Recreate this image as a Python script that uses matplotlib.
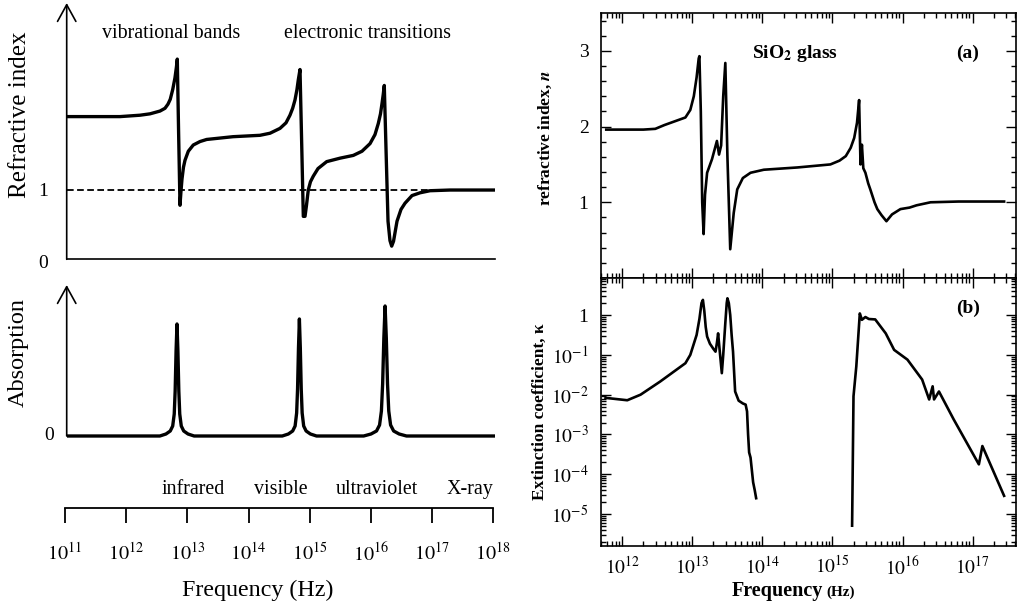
import matplotlib
matplotlib.use('Agg')
import matplotlib.pyplot as plt
import numpy as np
from matplotlib.ticker import FixedLocator, FixedFormatter, NullLocator, MultipleLocator, LogLocator, NullFormatter

plt.rcParams['font.family'] = ['Liberation Serif', 'DejaVu Serif']
plt.rcParams['mathtext.fontset'] = 'stix'

# ---------------- data: schematic (left) ----------------
schem_logf = [11.028, 11.572, 11.899, 12.225, 12.389, 12.552, 12.634, 12.683, 12.720, 12.760,
              12.797, 12.820, 12.835, 12.856, 12.879, 12.895, 12.912, 12.936, 12.961, 13.015,
              13.096, 13.206, 13.315, 13.745, 14.186, 14.350, 14.513, 14.611, 14.676, 14.720,
              14.758, 14.790, 14.812, 14.840, 14.868, 14.894, 14.922, 14.946, 14.975, 15.011,
              15.057, 15.134, 15.276, 15.494, 15.711, 15.853, 15.984, 16.065, 16.119, 16.155,
              16.180, 16.200, 16.217, 16.245, 16.278, 16.310, 16.338, 16.368, 16.425, 16.490,
              16.556, 16.670, 16.801, 16.964, 17.291, 18.026]
schem_n = [2.06, 2.06, 2.06, 2.08, 2.10, 2.14, 2.18, 2.24, 2.31, 2.45,
           2.62, 2.77, 2.89, 1.85, 0.78, 0.98, 1.16, 1.33, 1.43, 1.56,
           1.65, 1.70, 1.73, 1.77, 1.79, 1.82, 1.89, 1.97, 2.08, 2.18,
           2.30, 2.45, 2.59, 2.74, 1.65, 0.62, 0.62, 0.78, 1.00, 1.12,
           1.20, 1.31, 1.41, 1.46, 1.50, 1.56, 1.67, 1.80, 1.96, 2.10,
           2.25, 2.38, 2.51, 1.60, 0.55, 0.27, 0.19, 0.26, 0.55, 0.72,
           0.81, 0.92, 0.96, 0.99, 1.00, 1.00]

absorb_logf = [11.028,
               12.55, 12.65, 12.72, 12.76, 12.785, 12.80, 12.815, 12.83, 12.845, 12.86, 12.875, 12.90, 12.94, 13.01, 13.11,
               14.55, 14.65, 14.72, 14.76, 14.785, 14.80, 14.815, 14.83, 14.845, 14.86, 14.875, 14.90, 14.94, 15.01, 15.11,
               15.88, 16.00, 16.09, 16.14, 16.17, 16.19, 16.21, 16.23, 16.25, 16.27, 16.29, 16.32, 16.37, 16.46, 16.58,
               18.026]
absorb_val = [0.0,
              0.00, 0.02, 0.05, 0.10, 0.22, 0.45, 0.85, 1.12, 0.85, 0.45, 0.22, 0.10, 0.05, 0.02, 0.00,
              0.00, 0.02, 0.05, 0.10, 0.23, 0.47, 0.88, 1.17, 0.88, 0.47, 0.23, 0.10, 0.05, 0.02, 0.00,
              0.00, 0.02, 0.05, 0.11, 0.25, 0.52, 0.98, 1.30, 0.98, 0.52, 0.25, 0.11, 0.05, 0.02, 0.00,
              0.0]

bar_decades = [11, 12, 13, 14, 15, 16, 17, 18]
bar_labels = [r'$10^{11}$', r'$10^{12}$', r'$10^{13}$', r'$10^{14}$', r'$10^{15}$', r'$10^{16}$', r'$10^{17}$', r'$10^{18}$']
region_names = ['infrared', 'visible', 'ultraviolet', 'X-ray']
region_logf = [13.088, 14.526, 16.10, 17.62]

# ---------------- data: SiO2 glass (right) ----------------
n_logf = [11.77, 12.30, 12.47, 12.60, 12.75, 12.90, 12.97, 13.02, 13.06, 13.09,
          13.10, 13.12, 13.14, 13.16, 13.18, 13.21, 13.28, 13.35, 13.38, 13.41,
          13.44, 13.47, 13.50, 13.54, 13.59, 13.64, 13.72, 13.83, 14.02, 14.50,
          14.97, 15.10, 15.19, 15.26, 15.31, 15.35, 15.38, 15.40, 15.42, 15.44,
          15.47, 15.51, 15.54, 15.60, 15.64, 15.70, 15.77, 15.85, 15.97, 16.10,
          16.20, 16.40, 16.80, 17.45]
n_val = [1.96, 1.96, 1.97, 2.02, 2.07, 2.12, 2.22, 2.40, 2.65, 2.90,
         2.93, 2.20, 1.00, 0.58, 1.10, 1.39, 1.57, 1.81, 1.63, 1.75,
         2.40, 2.84, 1.60, 0.38, 0.86, 1.17, 1.32, 1.39, 1.43, 1.46,
         1.50, 1.55, 1.61, 1.72, 1.85, 2.05, 2.35, 1.50, 1.76, 1.45,
         1.39, 1.25, 1.17, 1.00, 0.91, 0.83, 0.75, 0.84, 0.91, 0.93,
         0.96, 1.00, 1.01, 1.01]

k1_logf = [11.76, 12.07, 12.26, 12.54, 12.90, 12.97, 13.06, 13.10, 13.13, 13.15,
           13.17, 13.19, 13.21, 13.25, 13.30, 13.33, 13.35, 13.367, 13.39, 13.42,
           13.44, 13.47, 13.49, 13.50, 13.52, 13.54, 13.56, 13.58, 13.61, 13.66,
           13.72, 13.76, 13.78, 13.795, 13.81, 13.83, 13.867, 13.89, 13.91]
k1_log = [-2.08, -2.14, -2.00, -1.67, -1.21, -1.00, -0.50, -0.10, 0.30, 0.38,
          0.10, -0.30, -0.54, -0.72, -0.85, -0.92, -0.70, -0.46, -0.90, -1.46,
          -1.00, -0.20, 0.30, 0.42, 0.30, 0.00, -0.50, -0.92, -1.92, -2.15,
          -2.22, -2.25, -2.42, -3.00, -3.45, -3.58, -4.20, -4.40, -4.60]

k2_logf = [15.28, 15.30, 15.34, 15.39, 15.42, 15.47, 15.52, 15.61, 15.76, 15.88,
           16.07, 16.28, 16.38, 16.43, 16.45, 16.52, 16.73, 17.09, 17.14, 17.45]
k2_log = [-5.29, -2.04, -1.29, 0.04, -0.12, -0.05, -0.10, -0.11, -0.46, -0.875,
          -1.12, -1.62, -2.12, -1.79, -2.12, -1.92, -2.62, -3.75, -3.29, -4.54]

right_xdecades = [12, 13, 14, 15, 16, 17]
right_xlabels = [r'$10^{12}$', r'$10^{13}$', r'$10^{14}$', r'$10^{15}$', r'$10^{16}$', r'$10^{17}$']
n_ticks = [1, 2, 3]
n_ticklabels = ['1', '2', '3']
k_decades = [0, -1, -2, -3, -4, -5]
k_ticklabels = ['1', r'$10^{-1}$', r'$10^{-2}$', r'$10^{-3}$', r'$10^{-4}$', r'$10^{-5}$']

# ---------------- figure ----------------
W, H = 1017, 605
fig = plt.figure(figsize=(W / 100, H / 100), dpi=100)
fig.patch.set_facecolor('white')


def rect(x0, y0, x1, y1):
    return [x0 / W, 1 - y1 / H, (x1 - x0) / W, (y1 - y0) / H]


def fx(x):
    return x / W


def fy(y):
    return 1 - y / H


def clean(ax):
    ax.patch.set_visible(False)
    ax.xaxis.set_major_locator(NullLocator())
    ax.xaxis.set_minor_locator(NullLocator())
    ax.yaxis.set_major_locator(NullLocator())
    ax.yaxis.set_minor_locator(NullLocator())


arrow_props = dict(arrowstyle='->,head_length=0.6,head_width=0.33', lw=1.2, color='k',
                   shrinkA=0, shrinkB=0, mutation_scale=20)

# Left top: refractive index
ax1 = fig.add_axes(rect(66.7, 3, 495, 259.3))
ax1.set_xscale('log')
ax1.set_xlim(10 ** 11.028, 10 ** 18.026)
ax1.set_ylim(0, 3.70)
clean(ax1)
for s in ['top', 'right', 'left']:
    ax1.spines[s].set_visible(False)
ax1.spines['bottom'].set_linewidth(1.2)
ax1.axhline(1.0, color='k', lw=1.3, ls=(0, (3.7, 1.9)), zorder=1)
ax1.plot(10 ** np.array(schem_logf), schem_n, color='k', lw=2.4, zorder=3,
         solid_joinstyle='round', solid_capstyle='round')
ax1.annotate('', xy=(0, 1), xytext=(0, 0), xycoords='axes fraction', textcoords='axes fraction',
             arrowprops=arrow_props, annotation_clip=False)

fig.text(fx(43.3), fy(192), '1', ha='center', va='center', fontsize=14)
fig.text(fx(43.3), fy(263), '0', ha='center', va='center', fontsize=14)
fig.text(fx(20), fy(115), 'Refractive index', rotation=90, ha='center', va='center', fontsize=18)
fig.text(fx(171), fy(33), 'vibrational bands', ha='center', va='center', fontsize=14.4)
fig.text(fx(367.5), fy(33), 'electronic transitions', ha='center', va='center', fontsize=14.4)

# Left middle: absorption
ax2 = fig.add_axes(rect(66.7, 285, 495, 440))
ax2.set_xscale('log')
ax2.set_xlim(10 ** 11.028, 10 ** 18.026)
ax2.set_ylim(-0.04, 1.51)
clean(ax2)
for s in ax2.spines.values():
    s.set_visible(False)
ax2.plot(10 ** np.array(absorb_logf), absorb_val, color='k', lw=2.4,
         solid_joinstyle='round', solid_capstyle='round')
ax2.annotate('', xy=(0, 1.51), xytext=(0, 0), xycoords=('axes fraction', 'data'),
             textcoords=('axes fraction', 'data'), arrowprops=arrow_props, annotation_clip=False)
fig.text(fx(49.3), fy(436), '0', ha='center', va='center', fontsize=14)
fig.text(fx(18), fy(352.5), 'Absorption', rotation=90, ha='center', va='center', fontsize=17.5)

# Left bottom: frequency bar
ax3 = fig.add_axes(rect(65, 470, 493.3, 508.3))
ax3.set_xscale('log')
ax3.set_xlim(10 ** 11, 10 ** 18)
ax3.patch.set_visible(False)
for s in ['top', 'right', 'left']:
    ax3.spines[s].set_visible(False)
ax3.spines['bottom'].set_linewidth(1.3)
ax3.yaxis.set_major_locator(NullLocator())
ax3.xaxis.set_major_locator(FixedLocator([10.0 ** d for d in bar_decades]))
ax3.xaxis.set_major_formatter(FixedFormatter(bar_labels))
ax3.xaxis.set_minor_locator(NullLocator())
ax3.tick_params(axis='x', direction='out', length=10.8, width=1.3, pad=14, labelsize=14.5)
for name, lf in zip(region_names, region_logf):
    ax3.text(10 ** lf, 0.496, name, transform=ax3.get_xaxis_transform(),
             ha='center', va='center', fontsize=14.4)
fig.text(fx(257.5), fy(590), 'Frequency (Hz)', ha='center', va='center', fontsize=17.3)

# Right (a)/(b): SiO2 glass
axa = fig.add_axes(rect(601, 13, 1016, 278))
axb = fig.add_axes(rect(601, 278, 1016, 546))
for ax in (axa, axb):
    ax.set_xscale('log')
    ax.set_xlim(10 ** 11.695, 10 ** 17.62)
    ax.xaxis.set_major_locator(FixedLocator([10.0 ** d for d in right_xdecades]))
    ax.xaxis.set_minor_locator(LogLocator(base=10, subs=np.arange(2, 10), numticks=50))
    ax.xaxis.set_minor_formatter(NullFormatter())
    for s in ax.spines.values():
        s.set_linewidth(1.2)
    ax.tick_params(which='both', direction='in', top=True, right=True, width=1.0)
    ax.tick_params(which='major', length=7)
    ax.tick_params(which='minor', length=3.5)
    ax.tick_params(labelsize=14)

axa.set_ylim(0, 3.5)
axa.yaxis.set_major_locator(FixedLocator(n_ticks))
axa.yaxis.set_major_formatter(FixedFormatter(n_ticklabels))
axa.yaxis.set_minor_locator(MultipleLocator(0.2))
axa.tick_params(axis='x', labelbottom=False)
axa.tick_params(axis='y', pad=9)
axa.plot(10 ** np.array(n_logf), n_val, color='k', lw=1.9, solid_joinstyle='round')

axb.set_yscale('log')
axb.set_ylim(10 ** -5.8, 10 ** 0.93)
axb.yaxis.set_major_locator(FixedLocator([10.0 ** d for d in k_decades]))
axb.yaxis.set_major_formatter(FixedFormatter(k_ticklabels))
axb.yaxis.set_minor_locator(LogLocator(base=10, subs=np.arange(2, 10), numticks=50))
axb.yaxis.set_minor_formatter(NullFormatter())
axb.xaxis.set_major_formatter(FixedFormatter(right_xlabels))
axb.tick_params(axis='y', pad=9)
axb.tick_params(axis='x', pad=7)
axb.plot(10 ** np.array(k1_logf), 10 ** np.array(k1_log), color='k', lw=1.9, solid_joinstyle='round')
axb.plot(10 ** np.array(k2_logf), 10 ** np.array(k2_log), color='k', lw=1.9, solid_joinstyle='round')

fig.text(fx(545), fy(138), r'refractive index, $\mathbfit{n}$', rotation=90, ha='center', va='center',
         fontsize=12.5, fontweight='bold')
fig.text(fx(540), fy(412), 'Extinction coefficient, κ', rotation=90, ha='center', va='center',
         fontsize=12.5, fontweight='bold')
fig.text(fx(795), fy(53), r'SiO$_{\mathbf{2}}$ glass', ha='center', va='center', fontsize=14, fontweight='bold')
fig.text(fx(968), fy(53), '(a)', ha='center', va='center', fontsize=14, fontweight='bold')
fig.text(fx(968), fy(308), '(b)', ha='center', va='center', fontsize=14, fontweight='bold')
fig.text(fx(823), fy(596), 'Frequency', ha='right', va='baseline', fontsize=14.5, fontweight='bold')
fig.text(fx(826), fy(596), '(Hz)', ha='left', va='baseline', fontsize=11, fontweight='bold')

fig.savefig('out.png', dpi=100, facecolor='white')
